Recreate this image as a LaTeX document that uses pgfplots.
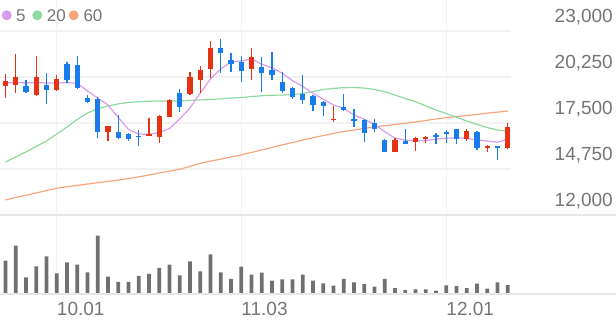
\documentclass[border=0pt]{standalone}
\usepackage{fontspec}
\setmainfont{Liberation Sans}
\usepackage{pgfplots}
\usepackage{pgfplotstable}
\pgfplotsset{compat=1.18}
\definecolor{upc}{RGB}{230,50,20}
\definecolor{dnc}{RGB}{24,124,236}
\definecolor{ma5c}{RGB}{215,155,240}
\definecolor{ma20c}{RGB}{142,217,160}
\definecolor{ma60c}{RGB}{247,165,124}
\definecolor{volc}{RGB}{112,112,112}
\definecolor{gridc}{RGB}{242,242,242}
\definecolor{sepc}{RGB}{230,230,230}
\definecolor{txtc}{RGB}{117,117,117}

\pgfplotstableread{
i o h l c
0 19710 20410 19010 20030
1 19770 21620 19310 20230
3 19160 21510 19130 20250
5 19470 20370 19430 20110
10 16940 17320 16420 17320
14 16780 17820 16760 16840
15 16680 17980 16290 17920
16 17880 18920 17880 18860
18 19230 20550 19170 20270
19 20070 20930 19280 20670
20 20730 22400 20170 21970
24 20750 22000 20090 21430
32 17680 18500 17560 17760
38 15770 16590 15750 16500
40 16380 16650 15840 16620
41 16560 16720 16290 16680
45 16530 17120 16420 17040
47 16050 16180 15750 16110
49 16020 17480 15930 17240
}\up

\pgfplotstableread{
i o h l c
2 19730 20070 19280 19340
4 19770 20470 18640 19490
6 21030 21160 19910 20070
7 20950 21510 19510 19570
8 19010 19190 18710 18770
9 18930 19070 16620 16940
11 16980 17980 16540 16620
12 16820 16880 16440 16560
13 16740 17080 16120 16680
17 19310 19530 18140 18470
21 21970 22500 20470 21670
22 21250 21700 20550 21050
23 21150 21510 19930 20590
25 20850 21460 19370 20510
26 20670 21760 20070 20350
27 19970 20530 19280 19410
28 19590 19630 18950 19040
29 19220 20370 18640 18890
30 19110 19160 18240 18580
31 18760 18800 17920 18530
33 18460 19230 18220 18300
34 17760 18320 17280 17600
35 17680 17720 16350 16880
36 17520 17720 16980 17160
37 16470 16530 15750 15770
39 16420 17140 16230 16260
42 16760 16880 16230 16650
43 16940 17080 16290 16820
44 17120 17160 16260 16530
46 16960 17000 15890 15990
48 16110 16120 15310 16020
}\down

\pgfplotstableread{
i m5 m20 m60
0 19910 15170 12900
1 19910 15470 13050
2 19910 15770 13180
3 19910 16100 13320
4 19890 16420 13460
5 19890 16840 13600
6 19910 17260 13690
7 19870 17710 13770
8 19410 18100 13850
9 18990 18340 13930
10 18580 18520 14010
11 17830 18640 14090
12 17110 18730 14180
13 16840 18770 14280
14 16820 18800 14390
15 16930 18820 14510
16 17170 18820 14620
17 17740 18820 14730
18 18400 18850 14910
19 19290 18880 15090
20 20130 18900 15220
21 20730 18950 15340
22 21150 18990 15470
23 21210 19020 15590
24 21330 19080 15740
25 21010 19130 15890
26 20810 19160 16040
27 20470 19170 16190
28 20030 19200 16330
29 19680 19260 16480
30 19280 19380 16620
31 18920 19500 16750
32 18580 19570 16880
33 18380 19610 16990
34 17980 19620 17080
35 17720 19590 17180
36 17420 19500 17260
37 16980 19370 17340
38 16590 19170 17410
39 16480 18960 17480
40 16420 18770 17560
41 16440 18520 17650
42 16540 18280 17740
43 16590 18060 17820
44 16620 17840 17880
45 16590 17620 17950
46 16480 17420 18010
47 16420 17230 18090
48 16350 17080 18150
49 16530 17020 18220
}\ma

\pgfplotstableread{
i v
0 100
1 145
2 50
3 83
4 113
5 62
6 95
7 88
8 65
9 175
10 52
11 36
12 36
13 54
14 60
15 78
16 88
17 56
18 98
19 68
20 119
21 65
22 45
23 82
24 58
25 64
26 40
27 44
28 44
29 58
30 40
31 32
32 25
33 45
34 35
35 30
36 22
37 45
38 18
39 12
40 14
41 14
42 10
43 26
44 24
45 18
46 31
47 16
48 35
49 27
}\vol

\begin{document}
\begin{tikzpicture}
\begin{axis}[
  at={(0,106bp)}, anchor=south west,
  scale only axis, width=511bp, height=215bp,
  xmin=-0.5366, xmax=49.317,
  ymin=12000, ymax=24853,
  scaled y ticks=false, scaled x ticks=false,
  axis line style={draw=none},
  major tick length=0pt,
  xtick={5,23,43}, xticklabels={,,},
  ytick={12000,14750,17500,20250,23000},
  yticklabels={{12,000},{14,750},{17,500},{20,250},{23,000}},
  yticklabel pos=right,
  yticklabel style={anchor=east, inner sep=0pt, xshift=102bp, yshift=13.5bp,
    text=txtc, font=\fontsize{19bp}{19bp}\selectfont},
  grid=major,
  grid style={draw=gridc, line width=1.2bp},
]
\addplot[ma60c, line width=1.2bp, no marks] table[x=i, y=m60] {\ma};
\addplot[ma20c, line width=1.2bp, no marks] table[x=i, y=m20] {\ma};
\addplot[ma5c, line width=1.2bp, no marks] table[x=i, y=m5] {\ma};
% wicks
\addplot[draw=none, no markers, error bars/.cd, y dir=both, y explicit,
  error mark=none, error bar style={draw=upc, line width=1.4bp}]
  table[x=i, y expr=(\thisrow{h}+\thisrow{l})/2, y error expr=(\thisrow{h}-\thisrow{l})/2] {\up};
\addplot[draw=none, no markers, error bars/.cd, y dir=both, y explicit,
  error mark=none, error bar style={draw=dnc, line width=1.4bp}]
  table[x=i, y expr=(\thisrow{h}+\thisrow{l})/2, y error expr=(\thisrow{h}-\thisrow{l})/2] {\down};
% bodies
\addplot[draw=none, no markers, error bars/.cd, y dir=both, y explicit,
  error mark=none, error bar style={draw=upc, line width=5.4bp}]
  table[x=i, y expr=(\thisrow{o}+\thisrow{c})/2, y error expr=abs(\thisrow{c}-\thisrow{o})/2] {\up};
\addplot[draw=none, no markers, error bars/.cd, y dir=both, y explicit,
  error mark=none, error bar style={draw=dnc, line width=5.4bp}]
  table[x=i, y expr=(\thisrow{o}+\thisrow{c})/2, y error expr=abs(\thisrow{c}-\thisrow{o})/2] {\down};
\end{axis}

\begin{axis}[
  at={(0,27bp)}, anchor=south west,
  scale only axis, width=511bp, height=79bp,
  xmin=-0.5366, xmax=49.317,
  ymin=0, ymax=237,
  axis line style={draw=none},
  major tick length=0pt,
  xtick={5,23,43}, xticklabels={10.01,11.03,12.01},
  xticklabel style={anchor=north west, inner sep=0pt, yshift=-7.7bp,
    text=txtc, font=\fontsize{19bp}{19bp}\selectfont},
  ytick=\empty,
  xmajorgrids,
  grid style={draw=gridc, line width=1.2bp},
]
\addplot[ybar, bar width=3.8bp, fill=volc, draw=none] table[x=i, y=v] {\vol};
\end{axis}

\draw[sepc, line width=1.5bp] (0,106bp) -- (616bp,106bp);
\draw[sepc, line width=1.5bp] (0,27bp) -- (616bp,27bp);

\fill[ma5c] (6.7bp,305.7bp) circle (5bp);
\node[anchor=west, inner sep=0pt, text=txtc, font=\fontsize{17bp}{17bp}\selectfont] at (16bp,305.7bp) {5};
\fill[ma20c] (37.3bp,305.7bp) circle (5bp);
\node[anchor=west, inner sep=0pt, text=txtc, font=\fontsize{17bp}{17bp}\selectfont] at (46.7bp,305.7bp) {20};
\fill[ma60c] (73.7bp,305.7bp) circle (5bp);
\node[anchor=west, inner sep=0pt, text=txtc, font=\fontsize{17bp}{17bp}\selectfont] at (83.3bp,305.7bp) {60};

\pgfresetboundingbox
\path (0,0) rectangle (616bp,321bp);
\end{tikzpicture}
\end{document}
